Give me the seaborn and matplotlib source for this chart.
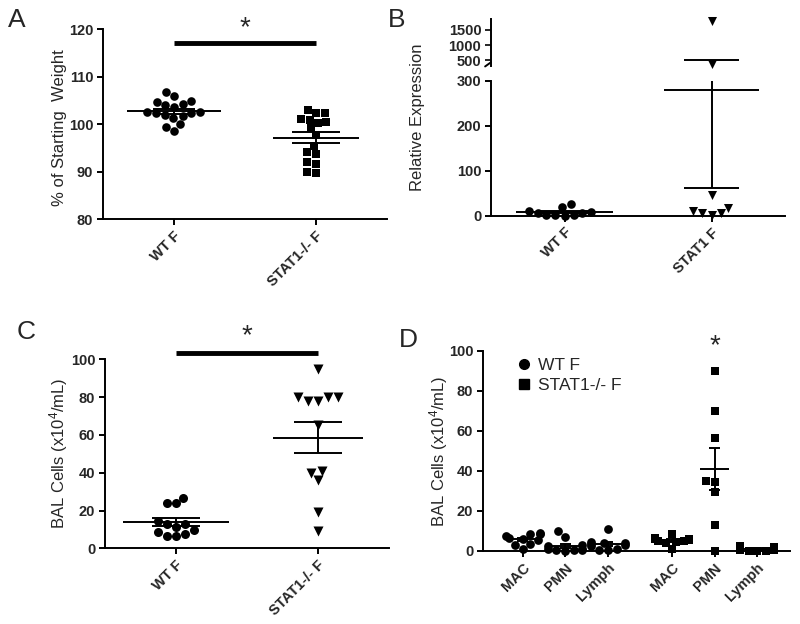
import numpy as np
import pandas as pd
import matplotlib
matplotlib.use("Agg")
import matplotlib.pyplot as plt
import seaborn as sns
from matplotlib.lines import Line2D

# ---- data ----
# A: body weight
weight_groups = ["WT F", "STAT1-/- F"]
weight_wt = [102.6, 102.3, 105.9, 101.7, 104.7, 100.0, 106.8, 104.0, 102.6,
             101.2, 98.6, 101.9, 99.3, 104.2, 102.3, 104.9, 103.6]
weight_stat1 = [100.9, 100.2, 103.0, 102.3, 100.5, 102.3, 101.1, 99.1,
                97.7, 95.4, 93.7, 94.1, 91.7, 92.1, 89.8, 89.9]

# B: relative expression (broken axis)
expr_groups = ["WT F", "STAT1 F"]
expr_wt = [19, 8, 7, 27, 6, 0.5, 0.3, 0.8, 0.5, 10]
expr_stat1 = [18, 5, 1, 5, 11, 46, 370, 1780]

# C: total BAL cells
bal_groups = ["WT F", "STAT1-/- F"]
bal_wt = [12.7, 9.7, 7.6, 6.5, 6.5, 8.8, 11.5, 12.7, 26.8, 23.8, 23.8, 14.6]
bal_stat1 = [94.9, 79.9, 79.9, 78.1, 78.1, 79.9, 65.3, 41.1, 40.0, 36.2, 19.4, 9.3]

# D: BAL differentials
cell_types = ["MAC", "PMN", "Lymph"]
diff_wt_mac = [8.8, 8.5, 8.7, 7.5, 6.5, 6.0, 5.5, 3.5, 3.0, 0.8]
diff_wt_pmn = [10.0, 7.2, 3.0, 2.5, 1.0, 0.8, 0.5, 0.5, 0.3, 0.2]
diff_wt_lymph = [11.2, 4.5, 4.2, 3.8, 3.5, 3.0, 2.5, 1.0, 0.5, 0.3]
diff_stat1_mac = [8.5, 6.5, 6.0, 5.8, 5.5, 5.2, 5.0, 4.5, 4.0, 1.0]
diff_stat1_pmn = [90.0, 70.0, 56.7, 35.2, 34.7, 29.3, 13.0, 0.2]
diff_stat1_lymph = [2.3, 2.2, 2.0, 1.5, 1.0, 0.5, 0.3, 0.2, 0.1, 0.0]

# ---- style ----
sns.set_style("ticks")
plt.rcParams["font.family"] = ["Liberation Sans", "DejaVu Sans"]
plt.rcParams["mathtext.fontset"] = "custom"
plt.rcParams["mathtext.rm"] = "Liberation Sans"
plt.rcParams["mathtext.it"] = "Liberation Sans:italic"
plt.rcParams["mathtext.bf"] = "Liberation Sans:bold"
plt.rcParams["axes.linewidth"] = 1.4
plt.rcParams["axes.edgecolor"] = "black"


def swarm(ax, vals, pos, marker, size, clip=False):
    df = pd.DataFrame({"pos": [pos] * len(vals), "val": vals})
    sns.swarmplot(data=df, x="pos", y="val", native_scale=True, orient="x",
                  marker=marker, color="black", size=size, linewidth=0,
                  clip_on=clip, ax=ax, zorder=3)


def mean_sem(ax, vals, pos, hw, cw, lw=1.4):
    m = np.mean(vals)
    s = np.std(vals, ddof=1) / np.sqrt(len(vals))
    ax.hlines(m, pos - hw, pos + hw, color="black", lw=lw, zorder=4)
    ax.vlines(pos, m - s, m + s, color="black", lw=lw, zorder=4)
    ax.hlines([m - s, m + s], pos - cw, pos + cw, color="black", lw=lw, zorder=4)


def style(ax, ylim, yticks, xpos, xlabels):
    sns.despine(ax=ax)
    ax.set_ylim(ylim)
    ax.set_yticks(yticks)
    ax.set_xticks(xpos)
    ax.set_xticklabels(xlabels, rotation=45, ha="right", rotation_mode="anchor",
                       fontweight="bold", fontsize=10.5)
    ax.tick_params(length=4, width=1.4, labelsize=10.5, pad=3, color="black")
    for lab in ax.get_yticklabels():
        lab.set_fontweight("bold")
    ax.set_xlabel("")


fig = plt.figure(figsize=(8, 6.24), dpi=100)

# ---- A ----
axA = fig.add_axes([0.12875, 0.649, 0.355, 0.304])
swarm(axA, weight_wt, 0, "o", 6.2)
swarm(axA, weight_stat1, 1, "s", 6.0)
mean_sem(axA, weight_wt, 0, 0.33, 0.15)
mean_sem(axA, weight_stat1, 1, 0.30, 0.17)
axA.set_xlim(-0.5, 1.5)
style(axA, (80, 120), [80, 90, 100, 110, 120], [0, 1], weight_groups)
axA.set_ylabel("% of Starting  Weight", fontsize=12)
axA.yaxis.set_label_coords(-0.127, 0.48)
axA.plot([0, 1], [117.1, 117.1], color="black", lw=3.5, solid_capstyle="butt")
axA.text(0.5, 120.3, "*", ha="center", va="center", fontsize=20, clip_on=False)

# ---- B (broken y axis) ----
axB = fig.add_axes([0.61375, 0.6543, 0.3675, 0.2159])
axBu = fig.add_axes([0.61375, 0.895, 0.3675, 0.0745], sharex=axB)
expr_wt_lo = [v for v in expr_wt if v <= 300]
expr_st_lo = [v for v in expr_stat1 if v <= 300]
expr_st_hi = [v for v in expr_stat1 if v > 300]
swarm(axB, expr_wt_lo, 0, "o", 6.2)
swarm(axB, expr_st_lo, 1, "v", 6.5)
swarm(axBu, expr_st_hi, 1, "v", 6.5)
for a in (axB, axBu):
    mean_sem(a, expr_wt, 0, 0.33, 0.19)
    mean_sem(a, expr_stat1, 1, 0.32, 0.19)
axB.set_xlim(-0.5, 1.5)
style(axB, (0, 300), [0, 100, 200, 300], [0, 1], expr_groups)
axB.set_ylabel("Relative Expression", fontsize=12)
axB.yaxis.set_label_coords(-0.224, 0.73)
axBu.set_ylim(330, 1850)
axBu.set_yticks([500, 1000, 1500])
sns.despine(ax=axBu, bottom=True)
axBu.tick_params(axis="x", bottom=False, labelbottom=False)
axBu.tick_params(axis="y", length=4, width=1.4, labelsize=10.5, pad=3)
for lab in axBu.get_yticklabels():
    lab.set_fontweight("bold")
axBu.set_xlabel("")
axBu.set_ylabel("")
# break mark at the foot of the upper spine
axBu.plot([-0.02, 0.0], [-0.02, 0.07], transform=axBu.transAxes,
          color="black", lw=1.4, clip_on=False)

# ---- C ----
axC = fig.add_axes([0.13125, 0.1213, 0.355, 0.3029])
swarm(axC, bal_wt, 0, "o", 6.5)
swarm(axC, bal_stat1, 1, "v", 7.2)
mean_sem(axC, bal_wt, 0, 0.37, 0.17)
mean_sem(axC, bal_stat1, 1, 0.32, 0.17)
axC.set_xlim(-0.5, 1.5)
style(axC, (0, 100), [0, 20, 40, 60, 80, 100], [0, 1], bal_groups)
axC.set_ylabel("BAL Cells (x10$^{4}$/mL)", fontsize=12)
axC.yaxis.set_label_coords(-0.123, 0.5)
axC.plot([0, 1], [103.5, 103.5], color="black", lw=3.5, solid_capstyle="butt",
         clip_on=False)
axC.text(0.5, 112, "*", ha="center", va="center", fontsize=20, clip_on=False)

# ---- D ----
axD = fig.add_axes([0.60375, 0.117, 0.38375, 0.3205])
d_pos = [0, 1, 2, 3.5, 4.5, 5.5]
wt_sets = [diff_wt_mac, diff_wt_pmn, diff_wt_lymph]
st_sets = [diff_stat1_mac, diff_stat1_pmn, diff_stat1_lymph]
for p, vals in zip(d_pos[:3], wt_sets):
    swarm(axD, vals, p, "o", 6.3)
    mean_sem(axD, vals, p, 0.33, 0.13)
for p, vals in zip(d_pos[3:], st_sets):
    swarm(axD, vals, p, "s", 5.8)
    mean_sem(axD, vals, p, 0.33, 0.13)
axD.set_xlim(-0.93, 6.27)
style(axD, (0, 100), [0, 20, 40, 60, 80, 100], d_pos, cell_types * 2)
axD.set_ylabel("BAL Cells (x10$^{4}$/mL)", fontsize=12)
axD.yaxis.set_label_coords(-0.107, 0.5)
axD.text(4.5, 102.5, "*", ha="center", va="center", fontsize=20, clip_on=False)
handles = [Line2D([], [], marker="o", color="black", ls="", markersize=7),
           Line2D([], [], marker="s", color="black", ls="", markersize=6.5)]
axD.legend(handles, ["WT F", "STAT1-/- F"], loc="upper left",
           bbox_to_anchor=(0.05, 1.045), frameon=False, fontsize=12.5,
           handletextpad=0.2, labelspacing=0.3, handlelength=1.2)

# ---- panel letters ----
for letter, x, y in [("A", 8, 8), ("B", 388, 8), ("C", 17, 320), ("D", 399, 328)]:
    fig.text(x / 800, 1 - y / 624, letter, fontsize=19, ha="left", va="top")

fig.savefig("out.png", dpi=100)
